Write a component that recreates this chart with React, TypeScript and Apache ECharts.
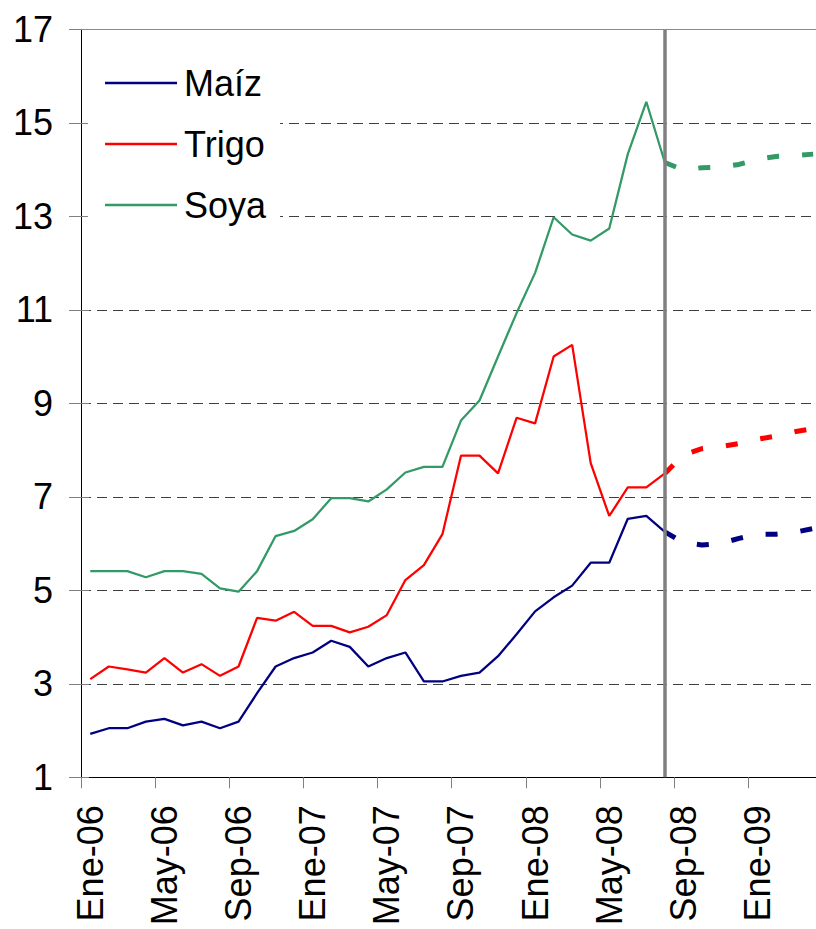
import React, { useEffect, useRef } from 'react';
import * as echarts from 'echarts';

const categories = [
  'Ene-06', 'Feb-06', 'Mar-06', 'Abr-06', 'May-06', 'Jun-06', 'Jul-06', 'Ago-06', 'Sep-06', 'Oct-06', 'Nov-06', 'Dic-06',
  'Ene-07', 'Feb-07', 'Mar-07', 'Abr-07', 'May-07', 'Jun-07', 'Jul-07', 'Ago-07', 'Sep-07', 'Oct-07', 'Nov-07', 'Dic-07',
  'Ene-08', 'Feb-08', 'Mar-08', 'Abr-08', 'May-08', 'Jun-08', 'Jul-08', 'Ago-08', 'Sep-08', 'Oct-08', 'Nov-08', 'Dic-08',
  'Ene-09', 'Feb-09', 'Mar-09', 'Abr-09',
];

// Observed values, Ene-06 .. Ago-08
const maizActual = [
  1.93, 2.05, 2.05, 2.19, 2.25, 2.11, 2.19, 2.05, 2.19, 2.8, 3.37, 3.55,
  3.67, 3.92, 3.79, 3.37, 3.55, 3.67, 3.05, 3.05, 3.17, 3.24, 3.59, 4.06,
  4.55, 4.85, 5.1, 5.59, 5.59, 6.53, 6.59, 6.25,
];
const trigoActual = [
  3.1, 3.37, 3.31, 3.24, 3.55, 3.24, 3.42, 3.17, 3.37, 4.41, 4.35, 4.54,
  4.24, 4.24, 4.1, 4.22, 4.47, 5.22, 5.54, 6.2, 7.88, 7.88, 7.5, 8.69,
  8.57, 10.0, 10.25, 7.72, 6.59, 7.2, 7.2, 7.5,
];
const soyaActual = [
  5.41, 5.41, 5.41, 5.28, 5.41, 5.41, 5.35, 5.04, 4.97, 5.41, 6.16, 6.27,
  6.52, 6.97, 6.97, 6.9, 7.16, 7.52, 7.64, 7.64, 8.63, 9.06, 10.0, 10.93,
  11.79, 12.98, 12.61, 12.48, 12.74, 14.33, 15.45, 14.15,
];

// Projected values, Ago-08 .. Abr-09
const forecastStart = 'Ago-08';
const maizForecast = [6.25, 6.02, 5.97, 6.0, 6.11, 6.2, 6.2, 6.24, 6.32];
const trigoForecast = [7.5, 7.9, 8.03, 8.07, 8.14, 8.23, 8.3, 8.39, 8.46];
const soyaForecast = [14.15, 13.99, 14.04, 14.05, 14.11, 14.22, 14.28, 14.3, 14.33];

const legendNames = ['Maíz', 'Trigo', 'Soya'];
const colors = ['#000080', '#FF0000', '#339966'];

const yMin = 1;
const yMax = 17;
const yInterval = 2;

const FONT = '"Liberation Sans", Arial, Helvetica, sans-serif';

function padActual(values: number[]): (number | null)[] {
  const out: (number | null)[] = values.slice();
  while (out.length < categories.length) out.push(null);
  return out;
}

function padForecast(values: number[]): (number | null)[] {
  const start = categories.indexOf(forecastStart);
  const out: (number | null)[] = [];
  for (let i = 0; i < start; i++) out.push(null);
  return out.concat(values);
}

export default function App() {
  const ref = useRef<HTMLDivElement>(null);

  useEffect(() => {
    if (!ref.current) return;
    const chart = echarts.init(ref.current, null, { renderer: 'svg' });

    const solid = (name: string, data: number[], color: string) => ({
      type: 'line',
      name,
      data: padActual(data),
      symbol: 'none',
      showSymbol: false,
      silent: true,
      emphasis: { disabled: true },
      itemStyle: { color },
      lineStyle: { color, width: 2.25, type: 'solid' },
    });
    const dashed = (name: string, data: number[], color: string) => ({
      type: 'line',
      name,
      data: padForecast(data),
      symbol: 'none',
      showSymbol: false,
      silent: true,
      emphasis: { disabled: true },
      itemStyle: { color },
      lineStyle: { color, width: 5, type: [12, 23] },
    });

    const lastSeries: any = dashed('Soya proyección', soyaForecast, colors[2]);
    lastSeries.markLine = {
      silent: true,
      symbol: ['none', 'none'],
      label: { show: false },
      emphasis: { disabled: true },
      data: [
        { xAxis: forecastStart, lineStyle: { color: '#808080', width: 3.5, type: 'solid' } },
        { yAxis: yMax, lineStyle: { color: '#8a8a8a', width: 1, type: 'solid' } },
      ],
    };

    chart.setOption({
      animation: false,
      backgroundColor: '#ffffff',
      textStyle: { fontFamily: FONT },
      grid: {
        left: 81,
        top: 29.3,
        width: 741.4,
        height: 748,
        containLabel: false,
        outerBoundsMode: 'none',
      },
      legend: {
        show: true,
        orient: 'vertical',
        left: 88,
        top: 54,
        data: legendNames.map((name) => ({ name, icon: 'rect' })),
        icon: 'rect',
        itemWidth: 72,
        itemHeight: 2.5,
        itemGap: 25,
        padding: [11, 14, 11, 17],
        backgroundColor: '#ffffff',
        selectedMode: false,
        textStyle: { fontSize: 36, color: '#000000', fontFamily: FONT, padding: [0, 0, 0, 2] },
      },
      xAxis: {
        type: 'category',
        data: categories,
        boundaryGap: true,
        axisLine: { show: true, lineStyle: { color: '#000000', width: 1 } },
        axisTick: { show: true, interval: 3, length: 11, lineStyle: { color: '#808080', width: 1 } },
        axisLabel: {
          interval: 3,
          rotate: 90,
          fontSize: 36,
          color: '#000000',
          margin: 28,
          fontFamily: FONT,
        },
        splitLine: { show: false },
      },
      yAxis: [
        {
          type: 'value',
          min: yMin,
          max: yMax,
          interval: yInterval,
          axisLine: { show: true, lineStyle: { color: '#000000', width: 1 } },
          axisTick: { show: true, length: 12, lineStyle: { color: '#808080', width: 1 } },
          axisLabel: { fontSize: 36, color: '#000000', margin: 28, fontFamily: FONT },
          splitLine: { show: true, lineStyle: { color: '#404040', width: 1, type: [10, 6] } },
        },
        {
          type: 'value',
          position: 'left',
          min: yMin,
          max: yMax,
          interval: yInterval,
          axisLine: { show: false },
          axisTick: { show: true, inside: true, length: 8, lineStyle: { color: '#808080', width: 1 } },
          axisLabel: { show: false },
          splitLine: { show: false },
        },
      ],
      series: [
        solid(legendNames[0], maizActual, colors[0]),
        solid(legendNames[1], trigoActual, colors[1]),
        solid(legendNames[2], soyaActual, colors[2]),
        dashed('Maíz proyección', maizForecast, colors[0]),
        dashed('Trigo proyección', trigoForecast, colors[1]),
        lastSeries,
      ],
    });

    return () => chart.dispose();
  }, []);

  return (
    <div
      ref={ref}
      style={{ position: 'fixed', left: 0, top: 0, width: 816, height: 929, background: '#fff' }}
    />
  );
}
